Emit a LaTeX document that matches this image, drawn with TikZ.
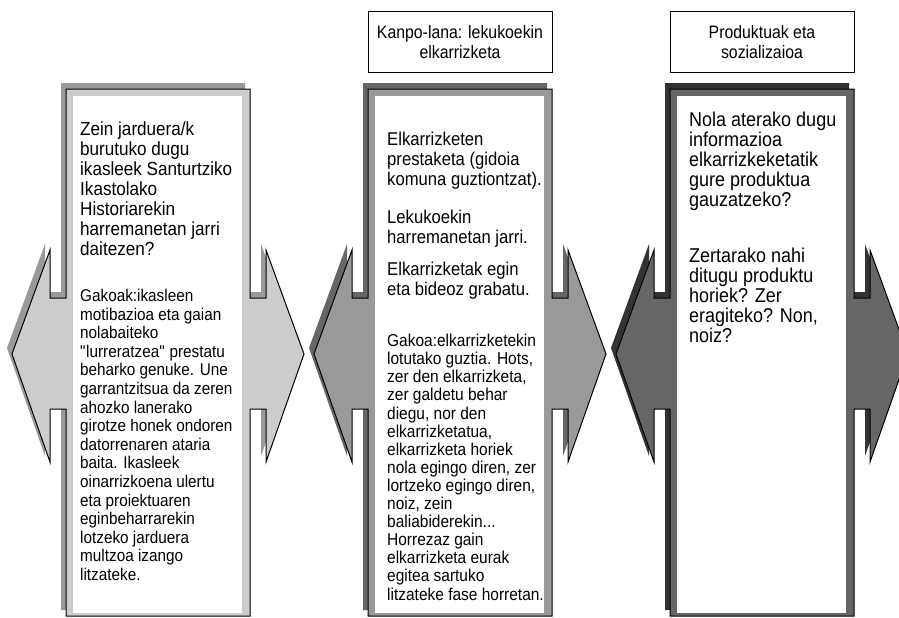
\documentclass[tikz,border=0pt]{standalone}
\usepackage{fontspec}
\setmainfont[FakeStretch=0.9]{Liberation Sans}
\newfontfamily\headfont[FakeStretch=0.88]{Liberation Sans}
\definecolor{paleshade}{HTML}{CCCCCC}
\definecolor{midshade}{HTML}{999999}
\definecolor{deepshade}{HTML}{666666}
\definecolor{darkshade}{HTML}{333333}

\begin{document}
\begin{tikzpicture}[x=1pt,y=-1pt,
	callout/.style={insert path={({#1-92},89) -- ({#1+92},89) -- ({#1+92},298) -- ({#1+108},298) -- ({#1+108},250) -- ({#1+146},354) -- ({#1+108},462) -- ({#1+108},409) -- ({#1+92},409) -- ({#1+92},616) -- ({#1-92},616) -- ({#1-92},409) -- ({#1-108},409) -- ({#1-108},462) -- ({#1-146},354) -- ({#1-108},250) -- ({#1-108},298) -- ({#1-92},298) -- cycle}},
	txt/.style={anchor=north west,inner sep=0pt,align=left},
	bigtxt/.style={txt,font=\fontsize{19}{20}\selectfont},
	smalltxt/.style={txt,font=\fontsize{17}{18.6}\selectfont},
	headbox/.style={draw,line width=1pt,fill=white,minimum width=184pt,minimum height=60pt,inner sep=0pt,align=center,font=\headfont\fontsize{18}{20}\selectfont}]
	\useasboundingbox (0,0) rectangle (899,618);
	\clip (0,0) rectangle (899,618);

	% the three double arrow callouts
	\foreach \cx/\fc/\sc in {158/paleshade/midshade, 460/midshade/deepshade, 762/deepshade/darkshade}{
		\fill[\sc,shift={(-5,-6)}] [callout=\cx];
		\draw[fill=\fc,line width=1pt] [callout=\cx];
		\fill[white] ({\cx-85},96) rectangle ({\cx+84},613);
	}

	% headers
	\node[headbox] (h2) at (460,42) {Kanpo-lana: lekukoekin\\elkarrizketa};
	\node[headbox] (h3) at (762,42) {Produktuak eta\\sozializaioa};

	% left
	\node[bigtxt] (q1) at (80,122) {Zein jarduera/k\\burutuko dugu\\ikasleek Santurtziko\\Ikastolako\\Historiarekin\\harremanetan jarri\\daitezen?};
	\node[smalltxt] (k1) at (80,289) {Gakoak:ikasleen\\motibazioa eta gaian\\nolabaiteko\\\textquotedbl lurreratzea\textquotedbl{} prestatu\\beharko genuke. Une\\garrantzitsua da zeren\\ahozko lanerako\\girotze honek ondoren\\datorrenaren ataria\\baita. Ikasleek\\oinarrizkoena ulertu\\eta proiektuaren\\eginbeharrarekin\\lotzeko jarduera\\multzoa izango\\litzateke.};

	% middle
	\node[bigtxt,font=\fontsize{18.5}{20}\selectfont] (m1) at (387,132) {Elkarrizketen\\prestaketa (gidoia\\komuna guztiontzat).};
	\node[bigtxt,font=\fontsize{18.5}{20}\selectfont] (m2) at (387,210) {Lekukoekin\\harremanetan jarri.};
	\node[bigtxt,font=\fontsize{18.5}{20}\selectfont] (m3) at (387,262) {Elkarrizketak egin\\eta bideoz grabatu.};
	\node[smalltxt,font=\fontsize{17.2}{18.1}\selectfont] (k2) at (387,334) {Gakoa:elkarrizketekin\\lotutako guztia. Hots,\\zer den elkarrizketa,\\zer galdetu behar\\diegu, nor den\\elkarrizketatua,\\elkarrizketa horiek\\nola egingo diren, zer\\lortzeko egingo diren,\\noiz, zein\\baliabiderekin...\\Horrezaz gain\\elkarrizketa eurak\\egitea sartuko\\litzateke fase horretan.};

	% right
	\node[bigtxt,font=\fontsize{20}{20}\selectfont] (r1) at (689,112) {Nola aterako dugu\\informazioa\\elkarrizkeketatik\\gure produktua\\gauzatzeko?};
	\node[bigtxt,font=\fontsize{20}{20}\selectfont] (r2) at (689,248) {Zertarako nahi\\ditugu produktu\\horiek? Zer\\eragiteko? Non,\\noiz?};
\end{tikzpicture}
\end{document}
